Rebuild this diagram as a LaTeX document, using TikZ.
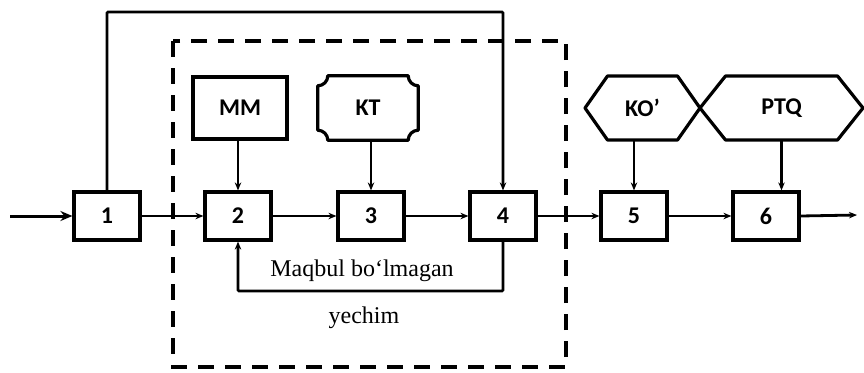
\documentclass[tikz,border=0pt]{standalone}
\usepackage{fontspec}
\setmainfont{Liberation Serif}
\newfontfamily\labfont{Carlito}
\usetikzlibrary{arrows.meta,calc}
\begin{document}
\begin{tikzpicture}[x=1pt,y=-1pt,
  lab/.style={font=\labfont\bfseries\fontsize{24}{26}\selectfont},
  blk/.style={lab,draw,line width=3.2pt,minimum width=66pt,minimum height=48pt,inner sep=0pt},
  ghost/.style={lab,inner sep=0pt},
  outl/.style={line width=3.2pt,line join=round},
  conn/.style={line width=2.8pt,-{Stealth[length=8pt,width=6.5pt]}},
  bold in/.style={line width=3pt,-{Stealth[length=12pt,width=10pt]}},
  dashbox/.style={line width=3.4pt,dash pattern=on 16pt off 11pt},
  note/.style={font=\fontsize{24}{26}\selectfont,inner sep=0pt}
]
\useasboundingbox (0,0) rectangle (864,372);

% dashed frame
\draw[dashbox] (173,41) rectangle (566,367);

% main row
\node[blk] (b1) at (107,216) {1};
\node[blk] (b2) at (238,216) {2};
\node[blk] (b3) at (371,216) {3};
\node[blk] (b4) at (503,216) {4};
\node[blk] (b5) at (634,216) {5};
\node[blk] (b6) at (766,216) {6};

\coordinate (in) at (10,216);
\coordinate (out) at (857,215);
\coordinate (top) at (0,12);
\coordinate (bot) at (0,291);

% upper blocks
\node[blk,minimum width=94pt,minimum height=62pt] (mm) at (240,108) {MM};
\node[ghost,minimum width=100pt,minimum height=64pt] (kt) at (368,108) {KT};
\draw[outl] let \p1=(kt.north west), \p2=(kt.south east) in
  (\x1+10pt,\y1) -- (\x2-10pt,\y1)
  .. controls (\x2-10pt,\y1-5.5pt) and (\x2-5.5pt,\y1-10pt) .. (\x2,\y1-10pt)
  -- (\x2,\y2+10pt)
  .. controls (\x2-5.5pt,\y2+10pt) and (\x2-10pt,\y2+5.5pt) .. (\x2-10pt,\y2)
  -- (\x1+10pt,\y2)
  .. controls (\x1+10pt,\y2+5.5pt) and (\x1+5.5pt,\y2+10pt) .. (\x1,\y2+10pt)
  -- (\x1,\y1-10pt)
  .. controls (\x1+5.5pt,\y1-10pt) and (\x1+10pt,\y1-5.5pt) .. cycle;

\node[ghost,minimum width=115pt,minimum height=64pt] (ko) at (642.5,108) {KO’};
\draw[outl] ($(ko)+(-57.5,0)$) -- ($(ko)+(-35,-32)$) -- ($(ko)+(35,-32)$)
  -- ($(ko)+(57.5,0)$) -- ($(ko)+(35,32)$) -- ($(ko)+(-35,32)$) -- cycle;
\node[ghost,minimum width=163pt,minimum height=64pt] (pt) at (781.5,108) {PTQ};
\draw[outl] ($(pt)+(-81.5,0)$) -- ($(pt)+(-56,-32)$) -- ($(pt)+(56,-32)$)
  -- ($(pt)+(81.5,0)$) -- ($(pt)+(56,32)$) -- ($(pt)+(-56,32)$) -- cycle;

% connectors main row
\draw[bold in] (in) -- (b1.west);
\draw[conn] (b1.east) -- (b2.west);
\draw[conn] (b2.east) -- (b3.west);
\draw[conn] (b3.east) -- (b4.west);
\draw[conn] (b4.east) -- (b5.west);
\draw[conn] (b5.east) -- (b6.west);
\draw[conn] (b6.east) -- (out);

% vertical inputs
\draw[conn] (b2.north |- mm.south) -- (b2.north);
\draw[conn] (b3.north |- kt.south) -- (b3.north);
\draw[conn] (b5.north |- ko.south) -- (b5.north);
\draw[conn] (pt.south) -- (pt.south |- b6.north);

% top loop 1 -> 4
\draw[conn,rounded corners=1pt] (b1.north) -- (b1.north |- top) -| (b4.north);

% feedback 4 -> 2
\draw[conn,rounded corners=1pt] (b4.south) -- (b4.south |- bot) -| (b2.south);

\node[note] (t1) at (362,271) {Maqbul bo‘lmagan};
\node[note] (t2) at (364,318) {yechim};
\end{tikzpicture}
\end{document}
